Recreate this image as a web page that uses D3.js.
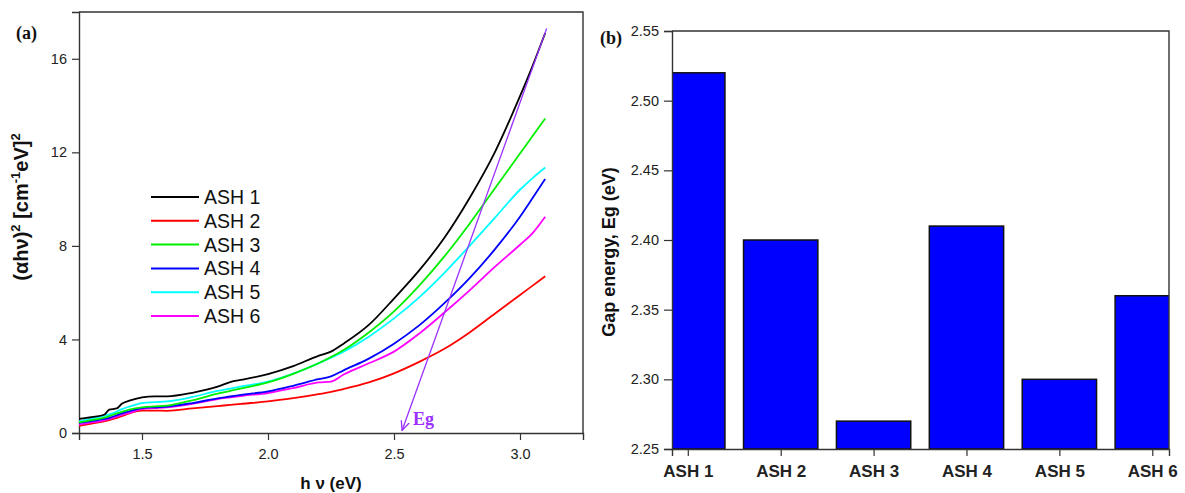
<!DOCTYPE html>
<html>
<head>
<meta charset="utf-8">
<script src="https://cdn.jsdelivr.net/npm/d3@7"></script>
<style>
  html, body { margin: 0; padding: 0; background: #fff; }
  svg { display: block; }
  .tick text { font-family: "Liberation Sans", Arial, sans-serif; fill: #222; }
</style>
</head>
<body>
<svg id="fig" width="1185" height="493"></svg>
<script>
// ---- Panel (a): Tauc plot, (αhν)² versus photon energy ----
const photonEnergy = [1.25, 1.30, 1.35, 1.37, 1.40, 1.42, 1.45, 1.50, 1.55, 1.60, 1.70, 1.80, 1.85, 1.90,
                      2.00, 2.10, 2.20, 2.25, 2.30, 2.40, 2.50, 2.60, 2.70, 2.80, 2.90, 3.00, 3.05, 3.10];
const ash1 = [0.60, 0.68, 0.78, 1.00, 1.05, 1.25, 1.38, 1.52, 1.57, 1.57, 1.72, 1.98, 2.18, 2.28,
              2.52, 2.86, 3.30, 3.48, 3.82, 4.62, 5.75, 6.95, 8.35, 10.05, 12.00, 14.40, 15.70, 17.10];
const ash2 = [0.31, 0.40, 0.50, 0.55, 0.65, 0.72, 0.84, 0.96, 0.96, 0.95, 1.05, 1.15, 1.20, 1.25,
              1.35, 1.49, 1.66, 1.76, 1.88, 2.16, 2.55, 3.04, 3.60, 4.30, 5.10, 5.90, 6.30, 6.70];
const ash3 = [0.45, 0.55, 0.66, 0.72, 0.84, 0.90, 1.00, 1.10, 1.14, 1.17, 1.40, 1.68, 1.80, 1.92,
              2.16, 2.53, 2.98, 3.25, 3.55, 4.30, 5.20, 6.30, 7.55, 8.95, 10.45, 11.95, 12.70, 13.45];
const ash4 = [0.43, 0.51, 0.60, 0.65, 0.76, 0.84, 0.93, 1.06, 1.10, 1.13, 1.28, 1.48, 1.56, 1.64,
              1.78, 2.02, 2.30, 2.42, 2.68, 3.18, 3.82, 4.60, 5.55, 6.62, 7.85, 9.25, 10.05, 10.86];
const ash5 = [0.50, 0.61, 0.74, 0.80, 0.92, 1.02, 1.13, 1.28, 1.32, 1.35, 1.54, 1.80, 1.90, 2.00,
              2.20, 2.54, 2.98, 3.22, 3.48, 4.12, 4.90, 5.80, 6.85, 8.00, 9.20, 10.40, 10.90, 11.35];
const ash6 = [0.36, 0.45, 0.54, 0.60, 0.70, 0.77, 0.86, 1.02, 1.06, 1.10, 1.25, 1.45, 1.52, 1.59,
              1.71, 1.92, 2.16, 2.20, 2.50, 2.98, 3.48, 4.25, 5.15, 6.10, 7.10, 8.05, 8.55, 9.25];
const seriesNames = ["ASH 1", "ASH 2", "ASH 3", "ASH 4", "ASH 5", "ASH 6"];
const seriesColors = ["#000000", "#ff0000", "#00ee00", "#0000ff", "#00ffff", "#ff00ff"];
const xTicksA = [1.5, 2.0, 2.5, 3.0];
const yTicksA = [0, 4, 8, 12, 16];
// Extrapolated linear fit marking the band gap
const egLine = [[3.106, 17.3], [2.532, 0.11]];

// ---- Panel (b): band gap energy per sample ----
const samples = ["ASH 1", "ASH 2", "ASH 3", "ASH 4", "ASH 5", "ASH 6"];
const gapEnergy = [2.52, 2.40, 2.27, 2.41, 2.30, 2.36];
const yTicksB = [2.25, 2.30, 2.35, 2.40, 2.45, 2.50, 2.55];

const svg = d3.select("#fig");
const SANS = '"Liberation Sans", Arial, sans-serif';
const SERIF = '"Liberation Serif", "Times New Roman", serif';
const axisColor = "#333";

function styleAxis(g) {
  g.select(".domain").attr("stroke", axisColor).attr("stroke-width", 1.4);
  g.selectAll(".tick line").attr("stroke", axisColor).attr("stroke-width", 1.2);
}

// =============== Panel (a) ===============
{
  const L = 79, R = 583, T = 12, B = 433;
  const x = d3.scaleLinear().domain([1.25, 3.25]).range([L, R]);
  const y = d3.scaleLinear().domain([0, 18]).range([B, T]);
  const g = svg.append("g");

  // frame (top and right edges)
  g.append("path").attr("d", `M${L},${T}H${R}V${B}`)
    .attr("fill", "none").attr("stroke", axisColor).attr("stroke-width", 1.4);

  const gx = g.append("g").attr("transform", `translate(0,${B})`);
  gx.call(d3.axisBottom(x).tickValues([1.75, 2.25, 2.75, 3.25]).tickSize(4).tickFormat(""));
  gx.call(d3.axisBottom(x).tickValues(xTicksA).tickSize(7).tickPadding(9).tickFormat(d3.format(".1f")));
  styleAxis(gx);
  gx.selectAll(".tick text").attr("font-size", 14.5);

  const gy = g.append("g").attr("transform", `translate(${L},0)`);
  gy.call(d3.axisLeft(y).tickValues([2, 6, 10, 14]).tickSize(4).tickFormat(""));
  gy.call(d3.axisLeft(y).tickValues(yTicksA).tickSize(7).tickPadding(5).tickFormat(d3.format("d")));
  styleAxis(gy);
  gy.selectAll(".tick text").attr("font-size", 14.5);

  const clip = svg.append("clipPath").attr("id", "clipA");
  clip.append("rect").attr("x", L).attr("y", T).attr("width", R - L).attr("height", B - T);

  const allSeries = [ash1, ash2, ash3, ash4, ash5, ash6];
  const line = d3.line()
    .x((d, i) => x(photonEnergy[i]))
    .y(d => y(d))
    .curve(d3.curveMonotoneX);
  const plot = g.append("g").attr("clip-path", "url(#clipA)");
  // draw back to front so ASH 1 ends on top
  [1, 5, 3, 4, 2, 0].forEach(k => {
    plot.append("path").datum(allSeries[k])
      .attr("d", line)
      .attr("fill", "none")
      .attr("stroke", seriesColors[k])
      .attr("stroke-width", 1.8);
  });

  // Eg extrapolation arrow
  const defs = svg.append("defs");
  defs.append("marker").attr("id", "egHead")
    .attr("viewBox", "0 0 10 10").attr("refX", 9).attr("refY", 5)
    .attr("markerWidth", 8).attr("markerHeight", 8).attr("orient", "auto")
    .append("path").attr("d", "M0,1L9,5L0,9").attr("fill", "none")
    .attr("stroke", "#9b30ff").attr("stroke-width", 1.3);
  g.append("line")
    .attr("x1", x(egLine[0][0])).attr("y1", y(egLine[0][1]))
    .attr("x2", x(egLine[1][0])).attr("y2", y(egLine[1][1]))
    .attr("stroke", "#9b30ff").attr("stroke-width", 1.3)
    .attr("marker-end", "url(#egHead)");
  g.append("text").attr("x", 413).attr("y", 425)
    .attr("font-family", SERIF).attr("font-weight", "bold").attr("font-size", 18)
    .attr("fill", "#9b30ff").text("Eg");

  // legend
  const lg = g.append("g").attr("transform", "translate(151,197)");
  seriesNames.forEach((name, i) => {
    const row = lg.append("g").attr("transform", `translate(0,${i * 23.8})`);
    row.append("line").attr("x1", 0).attr("x2", 48).attr("y1", 0).attr("y2", 0)
      .attr("stroke", seriesColors[i]).attr("stroke-width", 2);
    row.append("text").attr("x", 53).attr("y", 7)
      .attr("font-family", SANS).attr("font-size", 19.5).attr("fill", "#111").text(name);
  });

  // axis titles
  g.append("text").attr("x", (L + R) / 2).attr("y", 489).attr("text-anchor", "middle")
    .attr("font-family", SANS).attr("font-weight", "bold").attr("font-size", 17)
    .attr("fill", "#111").text("h ν (eV)");

  const yt = g.append("text")
    .attr("transform", "translate(28,207) rotate(-90)")
    .attr("text-anchor", "middle")
    .attr("font-family", SANS).attr("font-weight", "bold").attr("font-size", 20).attr("fill", "#111");
  yt.append("tspan").text("(αhν)");
  yt.append("tspan").attr("font-size", 13).attr("dy", -8).text("2");
  yt.append("tspan").attr("dy", 8).text(" [cm");
  yt.append("tspan").attr("font-size", 13).attr("dy", -8).text("-1");
  yt.append("tspan").attr("dy", 8).text("eV]");
  yt.append("tspan").attr("font-size", 13).attr("dy", -8).text("2");

  g.append("text").attr("x", 16).attr("y", 39)
    .attr("font-family", SERIF).attr("font-weight", "bold").attr("font-size", 18)
    .attr("fill", "#111").text("(a)");
}

// =============== Panel (b) ===============
{
  const L = 672, R = 1169, T = 31, B = 449;
  const x = d3.scaleLinear().domain([0.83, 6.18]).range([L, R]);
  const y = d3.scaleLinear().domain([2.25, 2.55]).range([B, T]);
  const g = svg.append("g");
  const idx = d3.range(1, samples.length + 1);
  const barW = 0.8 * (x(2) - x(1));

  const clip = svg.append("clipPath").attr("id", "clipB");
  clip.append("rect").attr("x", L).attr("y", T - 2).attr("width", R - L).attr("height", B - T + 4);

  g.append("g").attr("clip-path", "url(#clipB)")
    .selectAll("rect").data(gapEnergy).join("rect")
    .attr("x", (d, i) => x(idx[i]) - barW / 2)
    .attr("y", d => y(d))
    .attr("width", barW)
    .attr("height", d => y(2.25) - y(d))
    .attr("fill", "#0000ff")
    .attr("stroke", "#111")
    .attr("stroke-width", 1.5);

  g.append("path").attr("d", `M${L},${T}H${R}V${B}`)
    .attr("fill", "none").attr("stroke", axisColor).attr("stroke-width", 1.4);

  const gx = g.append("g").attr("transform", `translate(0,${B})`);
  gx.call(d3.axisBottom(x).tickValues([1.5, 2.5, 3.5, 4.5, 5.5]).tickSize(4).tickFormat(""));
  gx.call(d3.axisBottom(x).tickValues(idx).tickSize(7).tickPadding(9).tickFormat((d, i) => samples[i]));
  styleAxis(gx);
  gx.selectAll(".tick text").attr("font-size", 17).attr("font-weight", "bold").attr("fill", "#111");

  const gy = g.append("g").attr("transform", `translate(${L},0)`);
  gy.call(d3.axisLeft(y).tickValues([2.275, 2.325, 2.375, 2.425, 2.475, 2.525]).tickSize(4).tickFormat(""));
  gy.call(d3.axisLeft(y).tickValues(yTicksB).tickSize(8).tickPadding(5).tickFormat(d3.format(".2f")));
  styleAxis(gy);
  gy.selectAll(".tick text").attr("font-size", 14.5);

  g.append("text")
    .attr("transform", "translate(615,252) rotate(-90)")
    .attr("text-anchor", "middle")
    .attr("font-family", SANS).attr("font-weight", "bold").attr("font-size", 18)
    .attr("fill", "#111").text("Gap energy, Eg (eV)");

  g.append("text").attr("x", 600).attr("y", 44)
    .attr("font-family", SERIF).attr("font-weight", "bold").attr("font-size", 18)
    .attr("fill", "#111").text("(b)");
}
</script>
</body>
</html>
